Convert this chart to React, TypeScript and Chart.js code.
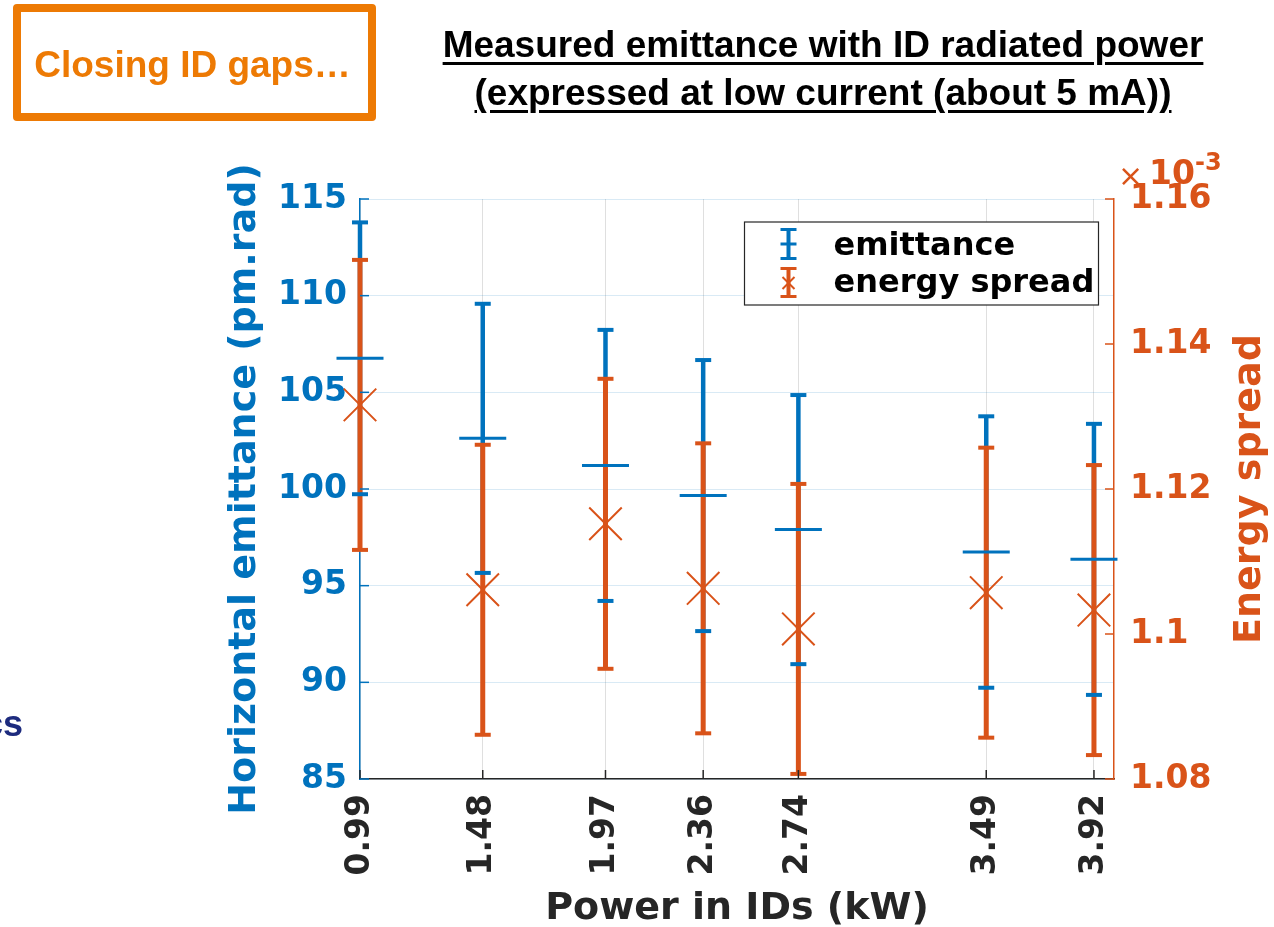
import React, { useEffect, useRef } from 'react';
import { Chart, registerables } from 'chart.js';

Chart.register(...registerables);

// ---- data ----
const powerKW = [0.99, 1.48, 1.97, 2.36, 2.74, 3.49, 3.92];
const powerTickLabels = ['0.99', '1.48', '1.97', '2.36', '2.74', '3.49', '3.92'];
const emittance = [106.76, 102.62, 101.22, 99.66, 97.9, 96.74, 96.36];
const emittanceErr = [7.03, 6.96, 7.01, 7.01, 6.96, 7.02, 7.01];
const energySpread = [1.1316, 1.1061, 1.1152, 1.1063, 1.1007, 1.1057, 1.1033];
const energySpreadErr = [0.02, 0.02, 0.02, 0.02, 0.02, 0.02, 0.02];
const emittanceTicks = [85, 90, 95, 100, 105, 110, 115];
const energyTicks = [1.08, 1.1, 1.12, 1.14, 1.16];
const energyTickLabels = ['1.08', '1.1', '1.12', '1.14', '1.16'];

const BLUE = '#0072BD';
const ORANGE = '#D95319';
const DARK = '#262626';
const FONT = "'DejaVu Sans', sans-serif";

function seg(ctx: any, x0: number, y0: number, x1: number, y1: number, color: string, w: number) {
  ctx.strokeStyle = color;
  ctx.lineWidth = w;
  ctx.beginPath();
  ctx.moveTo(x0, y0);
  ctx.lineTo(x1, y1);
  ctx.stroke();
}

const errorBarPlugin = {
  id: 'errorBars',
  beforeDatasetsDraw(chart: any) {
    const { ctx, scales } = chart;
    const xs = scales.x, ys = scales.y, ys1 = scales.y1;
    ctx.save();
    ctx.lineCap = 'butt';
    // emittance stems
    powerKW.forEach((p, i) => {
      const px = xs.getPixelForValue(p);
      seg(ctx, px, ys.getPixelForValue(emittance[i] + emittanceErr[i]), px, ys.getPixelForValue(emittance[i] - emittanceErr[i]), BLUE, 4.5);
    });
    // energy spread stems + caps
    powerKW.forEach((p, i) => {
      const px = xs.getPixelForValue(p);
      const t = ys1.getPixelForValue(energySpread[i] + energySpreadErr[i]);
      const b = ys1.getPixelForValue(energySpread[i] - energySpreadErr[i]);
      seg(ctx, px, t, px, b, ORANGE, 5);
      seg(ctx, px - 8, t, px + 8, t, ORANGE, 4);
      seg(ctx, px - 8, b, px + 8, b, ORANGE, 4);
    });
    // emittance caps
    powerKW.forEach((p, i) => {
      const px = xs.getPixelForValue(p);
      const t = ys.getPixelForValue(emittance[i] + emittanceErr[i]);
      const b = ys.getPixelForValue(emittance[i] - emittanceErr[i]);
      seg(ctx, px - 8, t, px + 8, t, BLUE, 4);
      seg(ctx, px - 8, b, px + 8, b, BLUE, 4);
    });
    ctx.restore();
  },
};

const decorPlugin = {
  id: 'decor',
  afterDatasetsDraw(chart: any) {
    const { ctx, chartArea, scales } = chart;
    const { left, right, top, bottom } = chartArea;
    ctx.save();
    ctx.lineCap = 'butt';
    // inward tick marks
    scales.x.ticks.forEach((t: any) => {
      const px = scales.x.getPixelForValue(t.value);
      seg(ctx, px, bottom, px, bottom - 9, DARK, 1.5);
    });
    scales.y.ticks.forEach((t: any) => {
      const py = scales.y.getPixelForValue(t.value);
      seg(ctx, left, py, left + 9, py, BLUE, 1.5);
    });
    scales.y1.ticks.forEach((t: any) => {
      const py = scales.y1.getPixelForValue(t.value);
      seg(ctx, right, py, right - 9, py, ORANGE, 1.5);
    });

    // legend
    const lx = right - 369.5, ly = top + 23, lw = 354, lh = 83;
    ctx.fillStyle = '#fff';
    ctx.fillRect(lx, ly, lw, lh);
    ctx.strokeStyle = DARK;
    ctx.lineWidth = 1.2;
    ctx.strokeRect(lx, ly, lw, lh);
    const ix = lx + 44;
    // emittance icon
    seg(ctx, ix, ly + 6, ix, ly + 38, BLUE, 4);
    seg(ctx, ix - 8, ly + 7.5, ix + 8, ly + 7.5, BLUE, 3);
    seg(ctx, ix - 8, ly + 36.5, ix + 8, ly + 36.5, BLUE, 3);
    seg(ctx, ix - 8, ly + 22, ix + 8, ly + 22, BLUE, 3);
    // energy spread icon
    seg(ctx, ix, ly + 45, ix, ly + 76, ORANGE, 4);
    seg(ctx, ix - 8, ly + 46.5, ix + 8, ly + 46.5, ORANGE, 3);
    seg(ctx, ix - 8, ly + 74.5, ix + 8, ly + 74.5, ORANGE, 3);
    seg(ctx, ix - 6, ly + 55, ix + 6, ly + 67, ORANGE, 2);
    seg(ctx, ix - 6, ly + 67, ix + 6, ly + 55, ORANGE, 2);
    ctx.fillStyle = '#000';
    ctx.font = `bold 32px ${FONT}`;
    ctx.textAlign = 'left';
    ctx.textBaseline = 'alphabetic';
    ctx.fillText('emittance', lx + 89, ly + 32.5);
    ctx.fillText('energy spread', lx + 89, ly + 69.5);

    // axis titles
    ctx.font = `bold 38px ${FONT}`;
    ctx.textAlign = 'center';
    ctx.fillStyle = BLUE;
    ctx.save();
    ctx.translate(left - 105, (top + bottom) / 2);
    ctx.rotate(-Math.PI / 2);
    ctx.fillText('Horizontal emittance (pm.rad)', 0, 0);
    ctx.restore();
    ctx.fillStyle = ORANGE;
    ctx.save();
    ctx.translate(right + 146, (top + bottom) / 2);
    ctx.rotate(-Math.PI / 2);
    ctx.fillText('Energy spread', 0, 0);
    ctx.restore();
    ctx.fillStyle = DARK;
    ctx.fillText('Power in IDs (kW)', (left + right) / 2, bottom + 140);

    // exponent label
    ctx.fillStyle = ORANGE;
    ctx.textAlign = 'left';
    ctx.font = `30px ${FONT}`;
    ctx.fillText('\u00d7', right + 4, top - 13);
    ctx.font = `bold 33px ${FONT}`;
    ctx.fillText('10', right + 35, top - 15);
    ctx.font = `bold 24px ${FONT}`;
    ctx.fillText('-3', right + 81, top - 29);
    ctx.restore();
  },
};

const tickFont = { family: FONT, size: 33, weight: 'bold' as const };

function ChartBox() {
  const ref = useRef<HTMLCanvasElement | null>(null);
  useEffect(() => {
    if (!ref.current) return;
    const chart = new Chart(ref.current, {
      type: 'scatter',
      data: {
        datasets: [
          {
            label: 'energy spread',
            data: powerKW.map((x, i) => ({ x, y: energySpread[i] })),
            yAxisID: 'y1',
            pointStyle: 'crossRot',
            pointRadius: 23,
            pointHoverRadius: 23,
            borderColor: ORANGE,
            backgroundColor: ORANGE,
            borderWidth: 2,
            pointBorderWidth: 2,
            clip: false,
            order: 0,
          },
          {
            label: 'emittance',
            data: powerKW.map((x, i) => ({ x, y: emittance[i] })),
            yAxisID: 'y',
            pointStyle: 'line',
            pointRadius: 23.5,
            pointHoverRadius: 23.5,
            borderColor: BLUE,
            backgroundColor: BLUE,
            borderWidth: 3,
            pointBorderWidth: 3,
            clip: false,
            order: 1,
          },
        ] as any,
      },
      options: {
        responsive: false,
        animation: false,
        events: [],
        layout: { padding: { top: 199, left: 0, right: 0, bottom: 0 } },
        plugins: {
          legend: { display: false },
          tooltip: { enabled: false },
          title: { display: false },
        },
        scales: {
          x: {
            type: 'linear',
            position: 'bottom',
            min: 0.99,
            max: 4.0,
            afterBuildTicks: (s: any) => {
              s.ticks = powerKW.map((v) => ({ value: v }));
            },
            afterFit: (s: any) => {
              s.height = 148;
            },
            ticks: {
              autoSkip: false,
              minRotation: 90,
              maxRotation: 90,
              padding: 15,
              color: DARK,
              font: tickFont,
              callback: (_v: any, i: number) => powerTickLabels[i],
            },
            grid: { color: 'rgba(38,38,38,0.15)', drawTicks: false, lineWidth: 1 },
            border: { color: DARK, width: 1.5 },
          },
          y: {
            type: 'linear',
            position: 'left',
            min: 85,
            max: 115,
            afterBuildTicks: (s: any) => {
              s.ticks = emittanceTicks.map((v) => ({ value: v }));
            },
            afterFit: (s: any) => {
              s.width = 360;
            },
            ticks: {
              padding: 13,
              color: BLUE,
              font: tickFont,
              callback: (_v: any, i: number) => String(emittanceTicks[i]),
            },
            grid: { color: 'rgba(0,114,189,0.15)', drawTicks: false, lineWidth: 1 },
            border: { color: BLUE, width: 1.5 },
          },
          y1: {
            type: 'linear',
            position: 'right',
            min: 1.08,
            max: 1.16,
            afterBuildTicks: (s: any) => {
              s.ticks = energyTicks.map((v) => ({ value: v }));
            },
            afterFit: (s: any) => {
              s.width = 160;
            },
            ticks: {
              padding: 16,
              color: ORANGE,
              font: tickFont,
              callback: (_v: any, i: number) => energyTickLabels[i],
            },
            grid: { display: false, drawTicks: false },
            border: { color: ORANGE, width: 1.5 },
          },
        },
      } as any,
      plugins: [errorBarPlugin, decorPlugin],
    });
    return () => chart.destroy();
  }, []);
  return <canvas ref={ref} width={1274} height={927} style={{ position: 'absolute', left: 0, top: 0, width: 1274, height: 927 }} />;
}

export default function App() {
  const orange = '#ED7A04';
  return (
    <div style={{ position: 'absolute', left: 0, top: 0, width: 1274, height: 927, overflow: 'hidden', background: '#fff' }}>
      <ChartBox />
      <div
        style={{
          position: 'absolute', left: 13, top: 4, width: 363, height: 117,
          boxSizing: 'border-box', border: `8px solid ${orange}`, borderRadius: 4,
        }}
      />
      <div
        style={{
          position: 'absolute', left: 11, top: 44, width: 363, textAlign: 'center',
          font: 'bold 37px "Liberation Sans", Arial, sans-serif', lineHeight: '42px', color: orange, whiteSpace: 'nowrap',
        }}
      >
        Closing ID gaps…
      </div>
      <div
        style={{
          position: 'absolute', left: 323, top: 21, width: 1000, textAlign: 'center',
          font: 'bold 37px "Liberation Sans", Arial, sans-serif', lineHeight: '48px', color: '#000',
          textDecoration: 'underline', textDecorationThickness: '3px', textUnderlineOffset: '5px', whiteSpace: 'nowrap',
        }}
      >
        Measured emittance with ID radiated power
        <br />
        (expressed at low current (about 5 mA))
      </div>
      <div
        style={{
          position: 'absolute', left: -17, top: 704, font: 'bold 36px "Liberation Sans", Arial, sans-serif',
          lineHeight: '40px', color: '#1D2B7E', whiteSpace: 'nowrap',
        }}
      >
        cs
      </div>
    </div>
  );
}
